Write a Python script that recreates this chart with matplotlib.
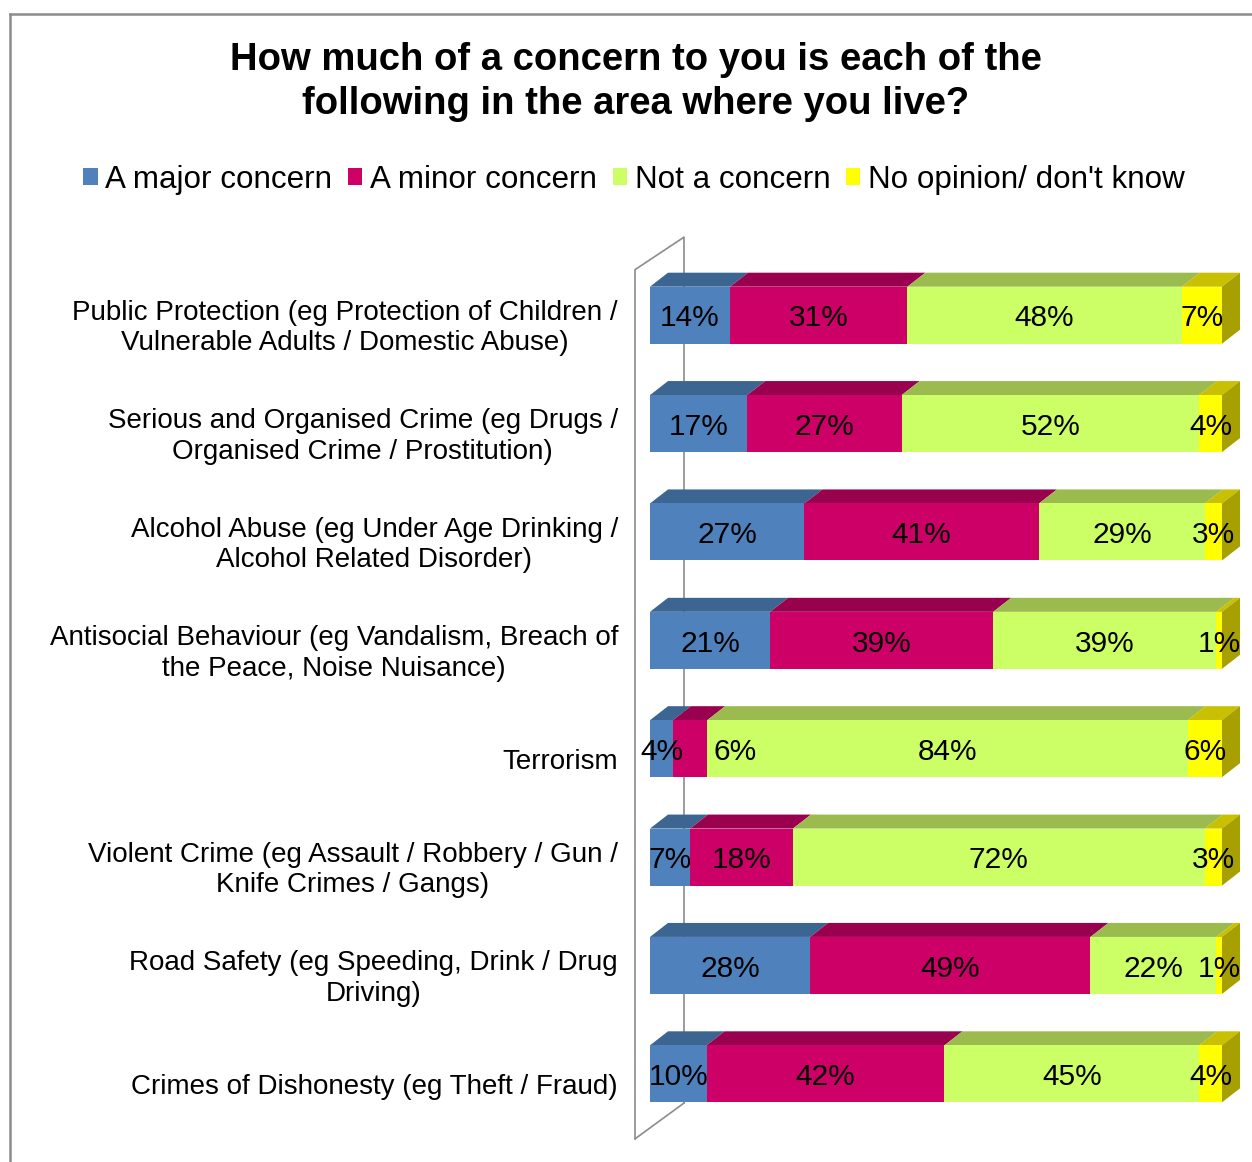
import matplotlib
matplotlib.use("Agg")
import matplotlib.pyplot as plt
from matplotlib.patches import Polygon, Patch
from matplotlib.lines import Line2D

plt.rcParams['font.family'] = ['Liberation Sans', 'DejaVu Sans']

categories = [
    "Public Protection (eg Protection of Children /\nVulnerable Adults / Domestic Abuse)",
    "Serious and Organised Crime (eg Drugs /\nOrganised Crime / Prostitution)",
    "Alcohol Abuse (eg Under Age Drinking /\nAlcohol Related Disorder)",
    "Antisocial Behaviour (eg Vandalism, Breach of\nthe Peace, Noise Nuisance)",
    "Terrorism",
    "Violent Crime (eg Assault / Robbery / Gun /\nKnife Crimes / Gangs)",
    "Road Safety (eg Speeding, Drink / Drug\nDriving)",
    "Crimes of Dishonesty (eg Theft / Fraud)",
]
major = [14, 17, 27, 21, 4, 7, 28, 10]
minor = [31, 27, 41, 39, 6, 18, 49, 42]
not_concern = [48, 52, 29, 39, 84, 72, 22, 45]
no_opinion = [7, 4, 3, 1, 6, 3, 1, 4]

series_names = ["A major concern", "A minor concern", "Not a concern", "No opinion/ don't know"]
series = [major, minor, not_concern, no_opinion]

# front, top and side shades for each series
front_col = ['#4f81bd', '#cc0066', '#ccff66', '#ffff00']
top_col = ['#3c6591', '#99004d', '#9bbb4f', '#c8c000']
side_col = ['#34597f', '#80003f', '#86a343', '#a8a000']

W, H = 1252, 1162
fig = plt.figure(figsize=(W / 100, H / 100), dpi=100)
fig.patch.set_facecolor('white')

# plot area: 0..100 % over x pixels 650..1222, eight rows 108 px apart
ax = fig.add_axes([650 / W, 1 - 1128 / H, 572 / W, 867 / H])
ax.set_xlim(0, 100)
ax.set_ylim(7.5, -0.5)
ax.axis('off')

bar_h = 0.526
dx = 18 / 5.72      # depth in % units
dy = 14 / 108.4     # depth in row units

# side wall of the 3d plot area
wall = dict(color='#8c8c8c', lw=1.2, zorder=1, clip_on=False)
xf, xb = -2.62, 5.94
ax.add_line(Line2D([xf, xf, xb, xb], [7.60, -0.42, -0.72, 7.27], **wall))
ax.add_line(Line2D([xf, xb], [7.60, 7.27], **wall))

rows = range(len(categories))
# 100% stacked: each row is scaled to its own total
totals = [sum(s[i] for s in series) for i in rows]
left = [0.0] * len(categories)
labels = []
for k, vals in enumerate(series):
    widths = [v / t * 100 for v, t in zip(vals, totals)]
    ax.barh(list(rows), widths, left=left, height=bar_h, color=front_col[k],
            edgecolor='none', zorder=3, clip_on=False)
    for i in rows:
        x0, x1 = left[i], left[i] + widths[i]
        yt, yb = i - bar_h / 2, i + bar_h / 2
        ax.add_patch(Polygon([(x0, yt), (x1, yt), (x1 + dx, yt - dy), (x0 + dx, yt - dy)],
                             closed=True, facecolor=top_col[k], edgecolor='none',
                             zorder=2 + k * 0.01, clip_on=False))
        if k == len(series) - 1:
            ax.add_patch(Polygon([(x1, yt), (x1 + dx, yt - dy), (x1 + dx, yb - dy), (x1, yb)],
                                 closed=True, facecolor=side_col[k], edgecolor='none',
                                 zorder=3, clip_on=False))
        t = ax.text((x0 + x1) / 2, i + 0.03, f"{vals[i]}%", ha='center', va='center',
                    fontsize=21.5, color='black', zorder=5, clip_on=False)
        labels.append((i, k, t))
    left = [l + w for l, w in zip(left, widths)]

# push labels of thin neighbouring segments apart
fig.canvas.draw()
renderer = fig.canvas.get_renderer()
inv = ax.transData.inverted()
gap = 30
for i in rows:
    prev_right = None
    for (r, k, t) in [lb for lb in labels if lb[0] == i]:
        bb = t.get_window_extent(renderer)
        if prev_right is not None and bb.x0 < prev_right:
            shift = prev_right + gap - bb.x0
            x, y = t.get_position()
            xd = ax.transData.transform((x, y))
            t.set_position(inv.transform((xd[0] + shift, xd[1])))
            bb = t.get_window_extent(renderer)
        prev_right = bb.x1

for i, name in enumerate(categories):
    ax.annotate(name, xy=(0, i), xytext=(-32, -13), textcoords='offset pixels',
                ha='right', va='center', multialignment='center', fontsize=20,
                linespacing=1.22, annotation_clip=False)

fig.text(636 / W, 1 - 82 / H,
         "How much of a concern to you is each of the\nfollowing in the area where you live?",
         ha='center', va='center', fontsize=27.5, fontweight='bold', linespacing=1.3)

handles = [Patch(facecolor=c, edgecolor='none') for c in front_col]
fig.legend(handles, series_names, loc='center', bbox_to_anchor=(634 / W, 1 - 180 / H),
           ncol=4, frameon=False, fontsize=22.6, handlelength=0.45, handleheight=0.45,
           handletextpad=0.25, columnspacing=0.5, borderpad=0)

# chart border (left and top edges)
border = dict(color='#8c8c8c', lw=1.8, transform=fig.transFigure)
fig.add_artist(Line2D([9.5 / W, 9.5 / W], [0, 1 - 13.5 / H], **border))
fig.add_artist(Line2D([9.5 / W, 1], [1 - 13.5 / H, 1 - 13.5 / H], **border))

fig.savefig("out.png", dpi=100)
